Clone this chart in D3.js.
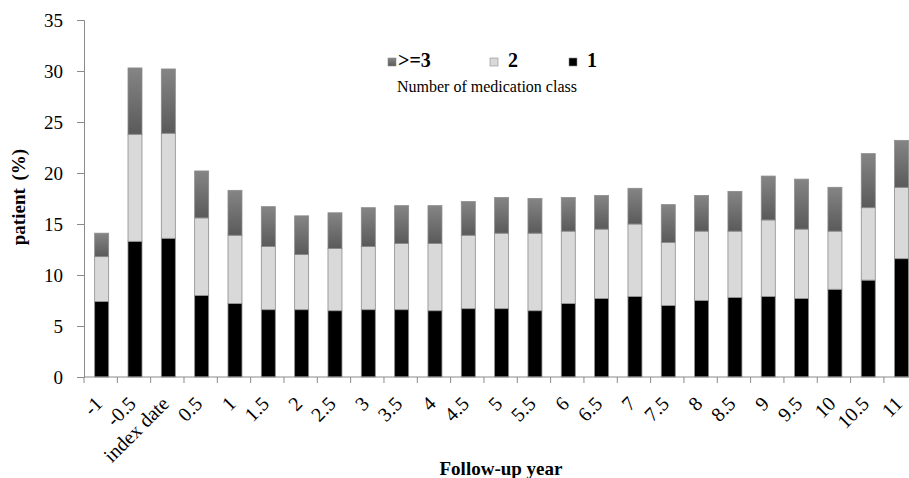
<!DOCTYPE html>
<html>
<head>
<meta charset="utf-8">
<script src="https://cdn.jsdelivr.net/npm/d3@7"></script>
<style>
  body { margin: 0; background: #fff; }
  text { font-family: "Liberation Serif", "Times New Roman", serif; fill: #000; }
</style>
</head>
<body>
<div class="barChart"></div>
<script>
//Chart data
var categories = ["-1", "-0.5", "index date", "0.5", "1", "1.5", "2", "2.5", "3", "3.5", "4", "4.5",
    "5", "5.5", "6", "6.5", "7", "7.5", "8", "8.5", "9", "9.5", "10", "10.5", "11"];
var class1 = [7.4, 13.3, 13.6, 8.0, 7.2, 6.6, 6.6, 6.5, 6.6, 6.6, 6.5, 6.7,
    6.7, 6.5, 7.2, 7.7, 7.9, 7.0, 7.5, 7.8, 7.9, 7.7, 8.6, 9.5, 11.6];
var class2 = [4.4, 10.5, 10.3, 7.6, 6.7, 6.2, 5.4, 6.1, 6.2, 6.5, 6.6, 7.2,
    7.4, 7.6, 7.1, 6.8, 7.1, 6.2, 6.8, 6.5, 7.5, 6.8, 5.7, 7.1, 7.0];
var class3 = [2.3, 6.5, 6.3, 4.6, 4.4, 3.9, 3.8, 3.5, 3.8, 3.7, 3.7, 3.3,
    3.5, 3.4, 3.3, 3.3, 3.5, 3.7, 3.5, 3.9, 4.3, 4.9, 4.3, 5.3, 4.6];
var yTicks = [0, 5, 10, 15, 20, 25, 30, 35];
var legendLabels = [">=3", "2", "1"];

//Width and height
var w = 909;
var h = 478;
var left = 84;
var bottom = 377;

var svg = d3.select(".barChart")
    .append("svg")
    .attr("width", w)
    .attr("height", h);

//Gradient for the >=3 segments
var grad = svg.append("defs").append("linearGradient")
    .attr("id", "darkGrad")
    .attr("x1", 0).attr("y1", 0).attr("x2", 0).attr("y2", 1);
grad.append("stop").attr("offset", "0%").attr("stop-color", "#858585");
grad.append("stop").attr("offset", "100%").attr("stop-color", "#5a5a5a");

var colors = { c1: "#000000", c2: "#d9d9d9", c3: "url(#darkGrad)" };

var dataset = categories.map((c, i) => ({ cat: c, c1: class1[i], c2: class2[i], c3: class3[i] }));
var series = d3.stack().keys(["c1", "c2", "c3"])(dataset);

//Scales (plot runs past the right edge, as in the original)
var xScale = d3.scaleBand()
    .domain(categories)
    .range([left, left + 25 * 33.33])
    .paddingInner(0.58)
    .paddingOuter(0.29);

var yScale = d3.scaleLinear()
    .domain([0, 35])
    .range([bottom, 20]);

//Bars
svg.append("g")
    .selectAll("g")
    .data(series)
    .enter()
    .append("g")
    .attr("fill", (s) => colors[s.key])
    .selectAll("rect")
    .data((s) => s)
    .enter()
    .append("rect")
    .attr("x", (d) => xScale(d.data.cat) + 1)
    .attr("y", (d) => yScale(d[1]))
    .attr("width", xScale.bandwidth())
    .attr("height", (d) => yScale(d[0]) - yScale(d[1]))
    .attr("stroke", "#8c8c8c")
    .attr("stroke-width", 0.8);

//Y axis
var yAxis = d3.axisLeft(yScale).tickValues(yTicks).tickSize(7).tickPadding(14);
var yg = svg.append("g")
    .attr("transform", "translate(" + left + ",0)")
    .call(yAxis);
yg.select(".domain").attr("stroke", "#8a8a8a");
yg.selectAll(".tick line").attr("stroke", "#8a8a8a");
yg.selectAll(".tick text")
    .style("font-family", "Liberation Serif")
    .style("font-size", "19px")
    .attr("fill", "#000");

//X axis line and ticks between categories
var step = xScale.step();
svg.append("line")
    .attr("x1", left).attr("x2", w)
    .attr("y1", bottom).attr("y2", bottom)
    .attr("stroke", "#8a8a8a");
svg.append("g")
    .selectAll("line")
    .data(categories)
    .enter()
    .append("line")
    .attr("x1", (d) => xScale(d) + xScale.bandwidth() / 2 - step / 2)
    .attr("x2", (d) => xScale(d) + xScale.bandwidth() / 2 - step / 2)
    .attr("y1", bottom)
    .attr("y2", bottom + 6)
    .attr("stroke", "#8a8a8a");

//Rotated category labels
svg.append("g")
    .selectAll("text")
    .data(categories)
    .enter()
    .append("text")
    .attr("transform", (d) => "translate(" + (xScale(d) + xScale.bandwidth() / 2 + 3) + "," + 405 + ") rotate(-45)")
    .attr("text-anchor", "end")
    .style("font-size", "20px")
    .text((d) => d);

//Axis titles
svg.append("text")
    .attr("transform", "rotate(-90 25 197)")
    .attr("x", 25)
    .attr("y", 197)
    .attr("text-anchor", "middle")
    .style("font-size", "19px")
    .style("font-weight", "bold")
    .style("word-spacing", "3px")
    .text("patient (%)");

svg.append("text")
    .attr("x", 501)
    .attr("y", 475)
    .attr("text-anchor", "middle")
    .style("font-size", "19px")
    .style("font-weight", "bold")
    .text("Follow-up year");

//Legend
var legendX = [388, 490, 569];
var legendFill = [colors.c3, colors.c2, colors.c1];
var legend = svg.append("g")
    .selectAll("g")
    .data(legendLabels)
    .enter()
    .append("g")
    .attr("transform", (d, i) => "translate(" + legendX[i] + ",58)");
legend.append("rect")
    .attr("width", 8)
    .attr("height", 8)
    .attr("fill", (d, i) => legendFill[i])
    .attr("stroke", "#8c8c8c")
    .attr("stroke-width", 0.6);
legend.append("text")
    .attr("x", (d, i) => i === 0 ? 10 : 18)
    .attr("y", 9)
    .style("font-size", "20px")
    .style("font-weight", "bold")
    .text((d) => d);

svg.append("text")
    .attr("x", 397)
    .attr("y", 92)
    .style("font-size", "16px")
    .text("Number of medication class");
</script>
</body>
</html>
